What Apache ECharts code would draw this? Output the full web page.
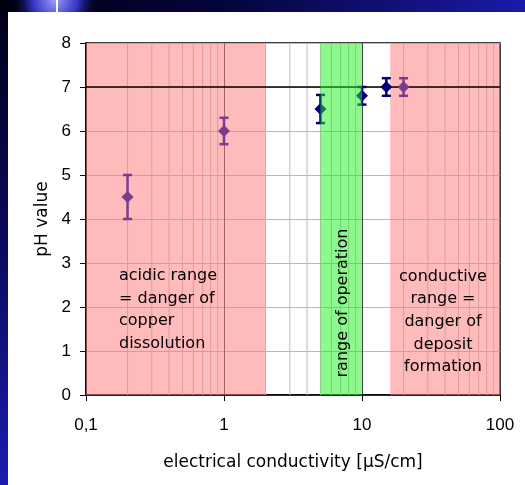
<!DOCTYPE html>
<html>
<head>
<meta charset="utf-8">
<script src="https://cdn.jsdelivr.net/npm/echarts@6/dist/echarts.min.js"></script>
<style>html,body{margin:0;padding:0;background:#fff}#c{width:525px;height:485px}</style>
</head>
<body>
<div id="c"></div>
<script>
// ---- data ----
const purpleX = [0.2, 1, 20];
const purpleY = [4.5, 6.0, 7.0];
const purpleErr = [0.5, 0.3, 0.2];
const navyX = [5, 10, 15];
const navyY = [6.5, 6.8, 7.0];
const navyErr = [0.32, 0.2, 0.2];
const pinkBands = [[0.1, 2], [16, 100]];
const greenBand = [[5, 10]];
const minorTicks = [0.2,0.3,0.4,0.5,0.6,0.7,0.8,0.9,2,3,4,5,6,7,8,9,20,30,40,50,60,70,80,90];
const refLineY = 7;
const yMin = 0, yMax = 8, yStep = 1;
const xMin = 0.1, xMax = 100;
const xTitle = 'electrical conductivity [µS/cm]';
const yTitle = 'pH value';
const noteAcid = 'acidic range\n= danger of\ncopper\ndissolution';
const noteOp = 'range of operation';
const noteCond = 'conductive\nrange =\ndanger of\ndeposit\nformation';

const TXT = 'DejaVu Sans';
const NUM = 'Liberation Sans';

function errSeries(name, xs, ys, es, color) {
  return {
    type: 'custom', name: name, z: 4,
    data: xs.map((x, i) => [x, ys[i], es[i]]),
    encode: { x: 0, y: 1 },
    renderItem: function (params, api) {
      const x = api.value(0), y = api.value(1), e = api.value(2);
      const c = api.coord([x, y]);
      const t = api.coord([x, y + e]);
      const b = api.coord([x, y - e]);
      const cap = 4.5, h = 6;
      return {
        type: 'group',
        children: [
          { type: 'line', shape: { x1: c[0], y1: t[1], x2: c[0], y2: b[1] }, style: { stroke: color, lineWidth: 2.5 } },
          { type: 'line', shape: { x1: c[0] - cap, y1: t[1], x2: c[0] + cap, y2: t[1] }, style: { stroke: color, lineWidth: 2.5 } },
          { type: 'line', shape: { x1: c[0] - cap, y1: b[1], x2: c[0] + cap, y2: b[1] }, style: { stroke: color, lineWidth: 2.5 } },
          { type: 'polygon', shape: { points: [[c[0], c[1] - h], [c[0] + h, c[1]], [c[0], c[1] + h], [c[0] - h, c[1]]] }, style: { fill: color } }
        ]
      };
    }
  };
}

function bandSeries(name, bands, color, z) {
  return {
    type: 'custom', name: name, z: z, silent: true,
    data: bands.map(b => [b[0], b[1], yMin, yMax]),
    encode: { x: [0, 1], y: [2, 3] },
    renderItem: function (params, api) {
      const p0 = api.coord([api.value(0), api.value(3)]);
      const p1 = api.coord([api.value(1), api.value(2)]);
      return { type: 'rect', shape: { x: p0[0], y: p0[1], width: p1[0] - p0[0], height: p1[1] - p0[1] }, style: { fill: color } };
    }
  };
}

const chart = echarts.init(document.getElementById('c'), null, { renderer: 'canvas' });
chart.setOption({
  backgroundColor: '#ffffff',
  animation: false,
  grid: { left: 86, right: 25, top: 43, bottom: 90, show: true, borderColor: '#000', borderWidth: 1.5, backgroundColor: 'transparent' },
  xAxis: {
    type: 'log', logBase: 10, min: xMin, max: xMax,
    name: xTitle, nameLocation: 'middle', nameGap: 59,
    nameTextStyle: { fontFamily: TXT, fontSize: 17, color: '#000' },
    axisLine: { lineStyle: { color: '#000', width: 1.5 } },
    axisTick: { show: true, length: 6, lineStyle: { color: '#000' } },
    axisLabel: { fontFamily: NUM, fontSize: 17, color: '#000', margin: 22,
      formatter: v => String(v).replace('.', ',') },
    splitLine: { show: true, lineStyle: { color: '#444', width: 1 } },
    minorTick: { show: false }
  },
  yAxis: {
    type: 'value', min: yMin, max: yMax, interval: yStep,
    name: yTitle, nameLocation: 'middle', nameGap: 35,
    nameTextStyle: { fontFamily: TXT, fontSize: 17, color: '#000' },
    axisLine: { show: true, lineStyle: { color: '#000', width: 1.5 } },
    axisTick: { show: true, length: 6, lineStyle: { color: '#000' } },
    axisLabel: { fontFamily: NUM, fontSize: 17, color: '#000', margin: 15 },
    splitLine: { show: true, lineStyle: { color: '#b8b8b8', width: 1 } }
  },
  graphic: [
    { type: 'rect', z: 100, shape: { x: 0, y: 0, width: 8, height: 485 },
      style: { fill: new echarts.graphic.LinearGradient(0, 0, 0, 1, [{ offset: 0, color: '#000016' }, { offset: 0.5, color: '#0a0a5e' }, { offset: 1, color: '#1c1cae' }]) } },
    { type: 'rect', z: 100, shape: { x: 0, y: 0, width: 525, height: 12 },
      style: { fill: new echarts.graphic.LinearGradient(0, 0, 1, 0, [{ offset: 0, color: '#000010' }, { offset: 0.45, color: '#050540' }, { offset: 1, color: '#1a1aa8' }]) } },
    { type: 'circle', z: 101, shape: { cx: 55, cy: 0, r: 42 },
      clipPath: { type: 'rect', shape: { x: 0, y: 0, width: 525, height: 12 } },
      style: { fill: new echarts.graphic.RadialGradient(0.5, 0.5, 0.5, [{ offset: 0, color: 'rgba(160,160,255,1)' }, { offset: 0.55, color: 'rgba(60,60,220,0.85)' }, { offset: 1, color: 'rgba(10,10,80,0)' }]) } },
    { type: 'rect', z: 102, shape: { x: 56, y: 0, width: 2, height: 12 }, style: { fill: '#ffffff' } },
    { type: 'text', z: 50, style: { text: noteAcid, x: 119, y: 265, fill: '#000', font: '16px "' + TXT + '"', lineHeight: 22.5, align: 'left', verticalAlign: 'top' } },
    { type: 'text', z: 50, rotation: Math.PI / 2, x: 343, y: 303, style: { text: noteOp, x: 0, y: 0, fill: '#000', font: '16px "' + TXT + '"', align: 'center', verticalAlign: 'middle' } },
    { type: 'text', z: 50, style: { text: noteCond, x: 443, y: 265, fill: '#000', font: '16px "' + TXT + '"', lineHeight: 22.7, align: 'center', verticalAlign: 'top' } }
  ],
  series: [
    {
      type: 'custom', name: 'minor grid', z: 1, silent: true,
      data: minorTicks.map(v => [v, yMin, yMax]),
      encode: { x: 0, y: [1, 2] },
      renderItem: function (params, api) {
        const a = api.coord([api.value(0), api.value(1)]);
        const b = api.coord([api.value(0), api.value(2)]);
        return { type: 'line', shape: { x1: a[0], y1: a[1], x2: b[0], y2: b[1] }, style: { stroke: '#bcbcbc', lineWidth: 1 } };
      }
    },
    bandSeries('pink', pinkBands, 'rgba(255,125,125,0.52)', 2),
    {
      type: 'custom', name: 'ref', z: 3, silent: true,
      data: [[xMin, refLineY], [xMax, refLineY]],
      encode: { x: 0, y: 1 },
      renderItem: function (params, api) {
        if (params.dataIndex !== 0) return null;
        const a = api.coord([xMin, refLineY]);
        const b = api.coord([xMax, refLineY]);
        return { type: 'line', shape: { x1: a[0], y1: a[1], x2: b[0], y2: b[1] }, style: { stroke: '#000', lineWidth: 1.5 } };
      }
    },
    errSeries('purple', purpleX, purpleY, purpleErr, '#7a3d8c'),
    errSeries('navy', navyX, navyY, navyErr, '#00007e'),
    bandSeries('green', greenBand, 'rgba(30,240,30,0.5)', 5)
  ]
});
</script>
</body>
</html>
